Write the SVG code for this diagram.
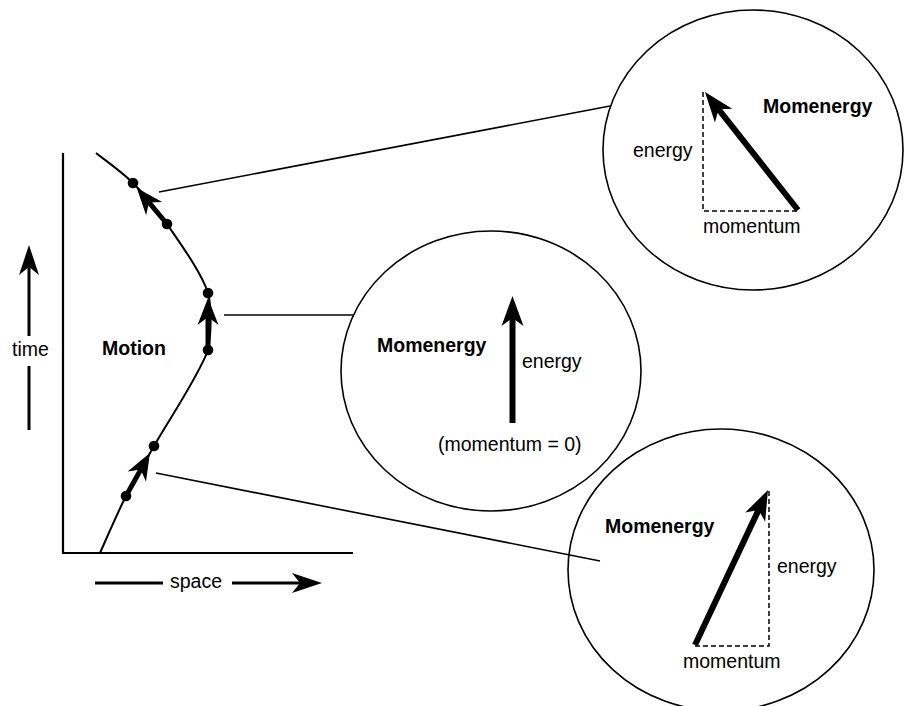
<svg xmlns="http://www.w3.org/2000/svg" width="904" height="706" viewBox="0 0 904 706">
<style>
  text { font-family: "Liberation Sans", Arial, sans-serif; font-size: 19.5px; fill: #000; }
  .b { font-weight: bold; }
  .thin { stroke: #000; stroke-width: 1.6; fill: none; }
  .curve { stroke: #000; stroke-width: 2; fill: none; }
  .axis { stroke: #000; stroke-width: 2.2; fill: none; }
  .dash { stroke: #000; stroke-width: 1.5; stroke-dasharray: 5 3; fill: none; }
  .vec { stroke: #000; stroke-width: 5; fill: none; }
  .bigvec { stroke: #000; stroke-width: 6; fill: none; }
  .ax { stroke: #000; stroke-width: 3; fill: none; }
  .dot { fill: #000; }
</style>
<defs>
  <marker id="hs" markerUnits="userSpaceOnUse" markerWidth="40" markerHeight="40" viewBox="-12 -15 40 30" refX="0" refY="0" orient="auto">
    <path d="M19,0 L-8,-10.5 L0,0 L-8,10.5 Z" fill="#000"/>
  </marker>
  <marker id="hb" markerUnits="userSpaceOnUse" markerWidth="40" markerHeight="40" viewBox="-10 -15 40 30" refX="0" refY="0" orient="auto">
    <path d="M22,0 L-8,-11 L0,0 L-8,11 Z" fill="#000"/>
  </marker>
  <marker id="ha" markerUnits="userSpaceOnUse" markerWidth="40" markerHeight="40" viewBox="-10 -15 40 30" refX="0" refY="0" orient="auto">
    <path d="M22,0 L-8,-10 L0,0 L-8,10 Z" fill="#000"/>
  </marker>
</defs>

<g id="connectors">
  <line class="thin" x1="159" y1="192" x2="610" y2="106"/>
  <line class="thin" x1="224" y1="315" x2="353" y2="315"/>
  <line class="thin" x1="156" y1="473" x2="600" y2="561"/>
</g>

<g id="motion-plot">
  <line class="axis" x1="63" y1="153" x2="63" y2="554"/>
  <line class="axis" x1="62" y1="553" x2="353" y2="553"/>
  <path class="curve" d="M96,153 C102.2,158 121.2,171.2 133,183 C144.8,194.8 154.5,205.7 167,224 C179.5,242.3 201.2,272 208,293 C211,304 212,330 208,350 C199,375.5 167.7,421.7 154,446 C140.3,470.3 135,478.2 126,496 C117,513.8 104.3,543.5 100,553"/>
  <line class="vec" x1="167" y1="224" x2="149" y2="202.5" marker-end="url(#hs)"/>
  <line class="vec" x1="208" y1="350" x2="208" y2="317" marker-end="url(#hs)"/>
  <line class="vec" x1="126" y1="496" x2="140.7" y2="469.6" marker-end="url(#hs)"/>
  <circle class="dot" cx="133" cy="183" r="5.3"/>
  <circle class="dot" cx="167" cy="224" r="5.3"/>
  <circle class="dot" cx="208" cy="293" r="5.3"/>
  <circle class="dot" cx="208" cy="350" r="5.3"/>
  <circle class="dot" cx="154" cy="446" r="5.3"/>
  <circle class="dot" cx="126" cy="496" r="5.3"/>
  <text class="b" x="102" y="355">Motion</text>
</g>

<g id="time-axis">
  <line class="ax" x1="29" y1="430" x2="29" y2="366"/>
  <line class="ax" x1="29" y1="336" x2="29" y2="267" marker-end="url(#ha)"/>
  <text x="12" y="356">time</text>
</g>

<g id="space-axis">
  <line class="ax" x1="95" y1="583" x2="163" y2="583"/>
  <line class="ax" x1="232" y1="583" x2="300" y2="583" marker-end="url(#ha)"/>
  <text x="170" y="588">space</text>
</g>

<g id="momenergy-top">
  <ellipse class="thin" cx="753" cy="150" rx="150" ry="140"/>
  <path class="dash" d="M703,92 L703,211 L798,211"/>
  <line class="bigvec" x1="798" y1="210" x2="718.6" y2="109.3" marker-end="url(#hb)"/>
  <text class="b" x="763" y="113">Momenergy</text>
  <text x="633" y="157">energy</text>
  <text x="703" y="233">momentum</text>
</g>

<g id="momenergy-middle">
  <ellipse class="thin" cx="491" cy="371" rx="150" ry="140"/>
  <line class="bigvec" x1="512.5" y1="423" x2="512.5" y2="318" marker-end="url(#hb)"/>
  <text class="b" x="377" y="352">Momenergy</text>
  <text x="522" y="368">energy</text>
  <text x="438" y="451">(momentum = 0)</text>
</g>

<g id="momenergy-bottom">
  <ellipse class="thin" cx="721" cy="570" rx="153" ry="141"/>
  <path class="dash" d="M695,646 L769,646 L769,490"/>
  <line class="bigvec" x1="695" y1="645" x2="758.6" y2="509.9" marker-end="url(#hb)"/>
  <text class="b" x="605" y="533">Momenergy</text>
  <text x="777" y="573">energy</text>
  <text x="683" y="668">momentum</text>
</g>
</svg>
